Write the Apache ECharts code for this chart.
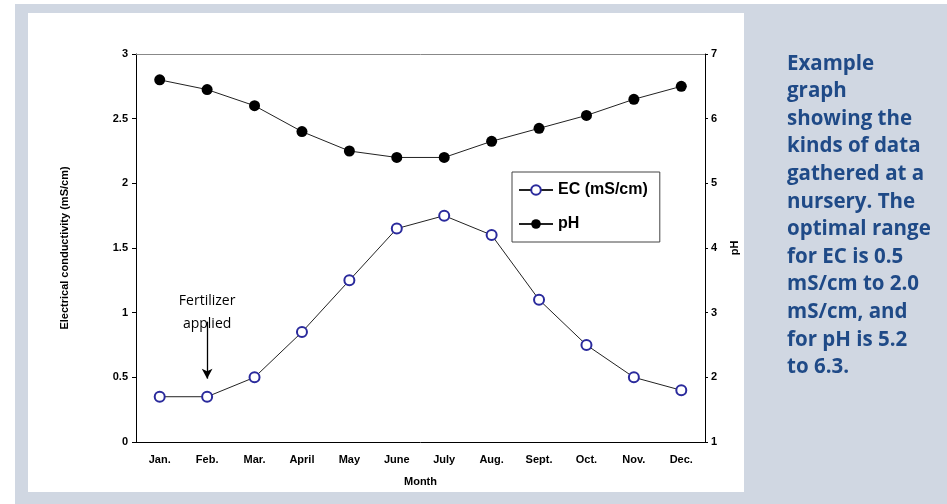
<!DOCTYPE html>
<html><head><meta charset="utf-8">
<script src="https://cdn.jsdelivr.net/npm/echarts@6/dist/echarts.min.js"></script>
<style>html,body{margin:0;padding:0;background:#fff}#c{width:947px;height:504px}</style>
</head><body><div id="c"></div>
<script>
const months = ['Jan.','Feb.','Mar.','April','May','June','July','Aug.','Sept.','Oct.','Nov.','Dec.'];
const ecValues = [0.35, 0.35, 0.50, 0.85, 1.25, 1.65, 1.75, 1.60, 1.10, 0.75, 0.50, 0.40];
const phValues = [6.60, 6.45, 6.20, 5.80, 5.50, 5.40, 5.40, 5.65, 5.85, 6.05, 6.30, 6.50];
const ecTicks = [0, 0.5, 1, 1.5, 2, 2.5, 3];
const phTicks = [1, 2, 3, 4, 5, 6, 7];
const caption = 'Example\ngraph\nshowing the\nkinds of data\ngathered at a\nnursery. The\noptimal range\nfor EC is 0.5\nmS/cm to 2.0\nmS/cm, and\nfor pH is 5.2\nto 6.3.';
const note = 'Fertilizer\napplied';

const chart = echarts.init(document.getElementById('c'), null, {renderer:'canvas'});
const lab = {fontFamily:'Liberation Sans, Arial', fontWeight:'bold', fontSize:11, color:'#000'};
chart.setOption({
  animation:false,
  backgroundColor:'#d0d7e2',
  graphic:[
    {type:'rect', left:0, top:0, shape:{width:15, height:504}, style:{fill:'#fff'}, z:-10},
    {type:'rect', left:0, top:0, shape:{width:947, height:4}, style:{fill:'#fff'}, z:-10},
    {type:'rect', left:28, top:13, shape:{width:716, height:479}, style:{fill:'#fff'}, z:-10},
    {type:'text', left:787, top:50, style:{text:caption, fill:'#1f4a87', font:'bold 20.5px "Open Sans", sans-serif', lineHeight:27.6}}
  ],
  grid:{left:136, right:242, top:54, bottom:62},
  legend:{
    orient:'vertical', left:512, top:172, width:150,
    padding:[10,12,10,6], itemGap:18, itemWidth:34, itemHeight:12,
    borderColor:'#444', borderWidth:1, backgroundColor:'#fff',
    textStyle:{fontFamily:'Liberation Sans, Arial', fontWeight:'bold', fontSize:16, color:'#000'},
    data:['EC (mS/cm)','pH']
  },
  xAxis:[{
    type:'category', data:months, boundaryGap:true,
    name:'Month', nameLocation:'middle', nameGap:34, nameTextStyle:lab,
    axisLine:{lineStyle:{color:'#000', width:1}},
    axisTick:{inside:true, length:4, lineStyle:{color:'#000'}},
    axisLabel:Object.assign({margin:12}, lab)
  },{
    type:'category', data:months, position:'top',
    axisLine:{lineStyle:{color:'#888'}}, axisTick:{show:false}, axisLabel:{show:false}
  }],
  yAxis:[{
    type:'value', min:0, max:3, interval:0.5, position:'left',
    name:'Electrical conductivity (mS/cm)', nameLocation:'middle', nameRotate:90, nameGap:66, nameTextStyle:lab,
    axisLine:{show:true, lineStyle:{color:'#000'}},
    axisTick:{show:true, length:4, lineStyle:{color:'#000'}},
    axisLabel:Object.assign({margin:8, formatter:v=>ecTicks.includes(v)?String(v):''}, lab),
    splitLine:{show:false}
  },{
    type:'value', min:1, max:7, interval:1, position:'right',
    name:'pH', nameLocation:'middle', nameRotate:90, nameGap:24, nameTextStyle:lab,
    axisLine:{show:true, lineStyle:{color:'#000'}},
    axisTick:{show:true, length:3, lineStyle:{color:'#000'}},
    axisLabel:Object.assign({margin:6, formatter:v=>phTicks.includes(v)?String(v):''}, lab),
    splitLine:{show:false}
  }],
  series:[{
    name:'EC (mS/cm)', type:'line', yAxisIndex:0, data:ecValues,
    symbol:'emptyCircle', symbolSize:10,
    lineStyle:{color:'#222', width:1},
    itemStyle:{color:'#2a2a9c', borderColor:'#2a2a9c', borderWidth:1.3},
    markPoint:{
      symbol:'circle', symbolSize:0,
      data:[{coord:['Feb.', 1.0], value:0}],
      label:{show:true, formatter:note, fontFamily:'"Open Sans", sans-serif', fontSize:14, lineHeight:23, color:'#000'}
    },
    markLine:{
      silent:true, symbol:['none','arrow'], symbolSize:[8,10],
      lineStyle:{color:'#000', width:1.3, type:'solid'}, label:{show:false},
      data:[[{coord:['Feb.', 0.93]},{coord:['Feb.', 0.49]}]]
    }
  },{
    name:'pH', type:'line', yAxisIndex:1, data:phValues,
    symbol:'circle', symbolSize:11,
    lineStyle:{color:'#222', width:1},
    itemStyle:{color:'#000'}
  }]
});
</script></body></html>
